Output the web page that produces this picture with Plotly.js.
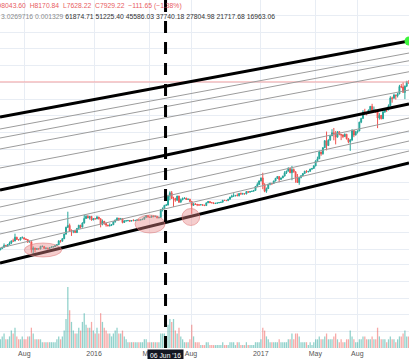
<!DOCTYPE html>
<html><head><meta charset="utf-8">
<script src="https://cdn.plot.ly/plotly-3.0.1.min.js"></script>
<style>html,body{margin:0;padding:0;background:#fff;overflow:hidden}#chart{width:409px;height:359px}</style>
</head><body><div id="chart"></div>
<script>
// ---- candle periods (4-day candles) ----
const periodStart = '2015-06-08';
const periodDays = 4;

const open = [
223,229,236,245,243,250,258,270,269,292,278,276,289,
289,281,278,264,265,224,232,225,229,
227,240,240,230,232,229,234,237,239,244,249,270,268,283,312,
360,375,332,332,335,322,352,376,362,395,435,455,440,455,422,
433,431,448,432,385,410,392,378,373,376,381,405,420,437,425,
433,399,412,414,417,411,416,415,418,422,420,424,428,446,462,
448,446,458,452,455,441,445,525,535,575,578,700,750,665,665,640,
700,615,648,665,672,652,655,624,575,593,588,582,580,582,578,
572,606,623,608,606,597,601,605,610,615,640,638,635,655,685,
698,705,710,705,740,730,735,732,770,760,772,776,789,860,895,965,
1030,895,775,820,900,920,915,965,1020,1060,998,1030,1070,1150,
1190,1265,1150,1230,1175,1040,935,1040,1080,1130,1185,1170,1185,1245,1260,
1330,1480,1545,1790,1720,1960,2270,2050,2300,2520,2690,2650,2450,2750,2600,2570,
2480,2610,2370,2220,2300,2840,2560,2730,
2800,3370,3650,4180,4150,4140,4360,4720,4250,4380,4180,3680,3900,3620,4200,
4400,4360,4780,5650,5600,6000,5900,6150,7200,7130,6350,7250,8043.6];

const high = [
231,238,256,248,252,266,272,283,315,294,281,291,297,
290,285,279,272,266,240,233,232,232,
243,245,241,234,233,237,240,240,248,250,274,275,286,315,365,
502,390,345,337,338,355,380,380,400,470,466,467,456,457,435,
436,460,450,435,425,412,398,380,392,385,407,425,445,440,440,
435,420,418,418,418,419,428,420,424,424,425,432,450,467,468,
451,463,461,460,456,446,530,550,580,592,720,775,780,690,675,705,
705,665,680,680,674,665,660,628,600,600,590,586,590,584,580,
610,630,625,612,612,605,608,612,618,645,641,642,660,690,720,
745,714,740,745,755,750,740,775,774,775,782,792,865,935,978,1035,
1150,920,840,910,925,925,970,1030,1070,1070,1035,1080,1190,1200,
1290,1280,1330,1260,1180,1120,1045,1090,1140,1200,1215,1190,1250,1265,1350,
1490,1620,1840,1800,1970,2300,2760,2340,2550,2900,2980,2790,2780,2780,2610,2600,
2650,2620,2410,2360,2900,2850,2800,2810,
3400,3700,4350,4480,4200,4400,4750,4980,4700,4400,4180,4080,3920,4250,4450,
4450,4920,5850,5800,6180,6050,6300,7450,7600,7880,7350,8050,8170.84];

const low = [
222,228,235,240,238,248,252,264,268,275,271,272,285,
278,275,258,262,210,198,211,223,225,
226,236,228,226,225,229,232,235,237,243,248,260,266,280,308,
355,330,300,318,319,319,350,350,360,390,430,436,425,415,418,
425,428,425,360,376,380,365,367,366,370,378,398,415,412,420,
392,396,410,410,404,410,413,411,416,416,418,422,427,443,443,
441,445,448,450,436,436,444,505,530,570,575,640,660,555,620,635,
605,610,640,658,645,645,620,480,570,580,565,568,578,570,568,
570,604,605,604,594,592,600,604,605,612,630,630,630,648,680,
690,695,700,695,725,728,728,728,752,757,766,773,787,858,892,955,
810,760,750,815,880,885,910,960,1010,940,990,1025,1065,1120,
1185,1140,980,1150,930,930,890,1020,1075,1125,1150,1160,1180,1220,1255,
1320,1450,1540,1650,1690,1950,1850,2030,2280,2510,2290,2100,2440,2550,2300,2400,
2470,2330,2150,1830,2280,2450,2550,2650,
2780,3300,3620,3950,3900,4120,4300,4100,4180,4100,2970,3560,3580,3610,4100,
4180,4350,4770,5100,5580,5450,5700,6100,6950,6350,5500,7100,7628.22];

const close = [
229,236,245,243,250,258,270,269,292,278,276,289,289,
281,278,264,265,224,232,225,229,227,
240,240,230,232,229,234,237,239,244,249,270,268,283,312,360,
375,332,332,335,322,352,376,362,395,435,455,440,455,422,433,
431,448,432,385,410,392,378,373,376,381,405,420,437,425,433,
399,412,414,417,411,416,415,418,422,420,424,428,446,462,448,
446,458,452,455,441,445,525,535,575,578,700,750,665,665,640,700,
615,648,665,672,652,655,624,575,593,588,582,580,582,578,572,
606,623,608,606,597,601,605,610,615,640,638,635,655,685,698,
705,710,705,740,730,735,732,770,760,772,776,789,860,895,965,1030,
895,775,820,900,920,915,965,1020,1060,998,1030,1070,1150,1190,
1265,1150,1230,1175,1040,935,1040,1080,1130,1185,1170,1185,1245,1260,1330,
1480,1545,1790,1720,1960,2270,2050,2300,2520,2690,2650,2450,2750,2600,2570,2480,
2610,2370,2220,2300,2840,2560,2730,2800,
3370,3650,4180,4150,4140,4360,4720,4250,4380,4180,3680,3900,3620,4200,4400,
4360,4780,5650,5600,6000,5900,6150,7200,7130,6350,7250,8043.6,7929.22];

const volume = [
3,4,5,3,3,4,6,5,7,4,3,3,4,
3,3,4,4,7,5,3,3,3,
3,2,2,2,2,2,2,2,2,3,4,3,4,6,10,
21,13,9,6,5,5,7,6,9,12,8,7,7,9,6,
5,7,5,12,9,7,6,5,5,4,5,6,7,5,5,
6,4,3,2,2,2,2,2,2,2,2,2,3,3,2,
2,2,2,2,2,2,5,5,5,4,8,10,9,10,6,5,
7,4,3,2,2,2,3,8,4,2,2,2,1,1,1,
2,2,1,1,1,1,1,1,1,2,1,1,1,2,2,
2,1,2,2,1,1,1,2,1,1,1,1,2,2,2,3,
7,6,4,3,2,2,2,2,2,3,2,2,2,2,
3,3,5,3,5,5,4,2,2,2,2,1,2,1,2,
3,3,4,3,3,4,5,3,3,3,4,5,3,2,3,2,
2,3,3,6,4,3,2,2,
3,3,4,4,3,3,3,4,3,3,7,4,3,3,3,
2,3,4,3,3,2,3,4,4,5,6,4,4];

// ---- channel drawing (prices at the left and right edge of the view) ----
const thickStart = [3760, 796.6, 168.7];
const thickEnd   = [18920, 4959, 1414];
const thinStart  = [2913, 2406, 1905, 1272, 554.8, 403.4, 312.6, 232.1];
const thinEnd    = [14665, 12450, 9851, 6675, 3681, 2793, 2257, 1825];

// ---- view / axes ----
const viewStart = '2015-06-08 14:00';
const viewEnd   = '2017-11-22 12:00';
const tickDates  = ['2015-08-01','2016-01-01','2016-05-01','2016-08-01','2017-01-01','2017-05-01','2017-08-01'];
const tickLabels = ['Aug','2016','May','Aug','2017','May','Aug'];
const gridPrices = [39,56,80,115,162,225,325,465,650,930,1330,1900,2700,3850,5500,7850,11200,16000,22800,32500,46000];

// ---- marked date ----
const markerDate = '2016-06-06';
const markerLabel = "06 Jun '16";

// ---- highlighted touches (ellipses) ----
const ellipseX0 = ['2015-08-01','2016-03-31','2016-07-12'];
const ellipseX1 = ['2015-10-22','2016-06-05','2016-08-20'];
const ellipseLow  = [191.7, 319.3, 374.5];
const ellipseHigh = [258.1, 468, 537.6];

// ---- legend texts ----
const legendOHLC = ['O8043.60','H8170.84','L7628.22','C7929.22','−111.65 (−1.38%)'];
const legendGray = ['3.0269716','0.001329'];
const legendLevels = ['61874.71','51225.40','45586.03','37740.18','27804.98','21717.68','16963.06'];

// ---------------------------------------------------------------
const UP = '#26a69a', DOWN = '#ef5350';
const t0 = Date.parse(periodStart + 'T00:00:00Z');
const fmt = ms => new Date(ms).toISOString().slice(0,16).replace('T',' ');
const dates = open.map((_, i) => fmt(t0 + (i * periodDays + 1.5) * 864e5));
const lastClose = close[close.length - 1];

const traces = [];
traces.push({
  type:'bar', x:dates, y:volume, yaxis:'y2',
  marker:{color: close.map((c,i)=> c >= open[i] ? 'rgba(38,166,154,0.5)' : 'rgba(239,83,80,0.5)')},
  hoverinfo:'skip'
});
traces.push({
  type:'scatter', mode:'lines', x:[viewStart, viewEnd], y:[lastClose, lastClose],
  line:{color:'#f5a3a3', width:1}, hoverinfo:'skip'
});
traces.push({
  type:'candlestick', x:dates, open:open, high:high, low:low, close:close,
  increasing:{line:{color:UP, width:1}, fillcolor:UP},
  decreasing:{line:{color:DOWN, width:1}, fillcolor:DOWN},
  whiskerwidth:0, hoverinfo:'skip'
});
thinStart.forEach((s,k)=>traces.push({
  type:'scatter', mode:'lines', x:[viewStart, viewEnd], y:[s, thinEnd[k]],
  line:{color:'#9c9c9c', width:1}, hoverinfo:'skip'
}));
thickStart.forEach((s,k)=>traces.push({
  type:'scatter', mode:'lines', x:[viewStart, viewEnd], y:[s, thickEnd[k]],
  line:{color:'#000', width:3}, hoverinfo:'skip'
}));
traces.push({
  type:'scatter', mode:'markers', x:[viewEnd], y:[thickEnd[0]],
  marker:{color:'#3df53d', size:9}, cliponaxis:true, hoverinfo:'skip'
});

const shapes = ellipseX0.map((x0,k)=>({
  type:'circle', xref:'x', yref:'y', x0:x0, x1:ellipseX1[k], y0:ellipseLow[k], y1:ellipseHigh[k],
  fillcolor:'rgba(232,135,135,0.42)', line:{color:'rgba(222,120,120,0.55)', width:1}, layer:'above'
}));
shapes.push({
  type:'line', xref:'x', yref:'paper', x0:markerDate, x1:markerDate, y0:0, y1:1,
  line:{color:'#000', width:3, dash:'12px,9px'}, layer:'above'
});

const legFont = {family:'Liberation Sans, Arial, sans-serif', size:6.8};
const annotations = [
  {xref:'paper', yref:'paper', x:-5/409, y:1-6/348, xanchor:'left', yanchor:'middle', showarrow:false,
   borderpad:0, text:legendOHLC.join('\u00a0\u00a0'), font:Object.assign({color:'#e8605f'}, legFont)},
  {xref:'paper', yref:'paper', x:0, y:1-17/348, xanchor:'left', yanchor:'middle', showarrow:false, borderpad:0,
   text:'<span style="color:#8c8c8c">'+legendGray.join(' ')+'</span> '+legendLevels.join(' '),
   font:Object.assign({color:'#333'}, legFont)},
  {xref:'x', yref:'paper', x:markerDate, y:0, xanchor:'center', yanchor:'top', showarrow:false,
   text:markerLabel, bgcolor:'#131722', borderpad:2, yshift:-1,
   font:{family:'Liberation Sans, Arial, sans-serif', size:6.8, color:'#fff'}}
];

const layout = {
  width:409, height:359, margin:{l:0, r:0, t:0, b:11},
  paper_bgcolor:'#fff', plot_bgcolor:'#fff', showlegend:false, bargap:0.3,
  xaxis:{type:'date', range:[viewStart, viewEnd], tickvals:tickDates, ticktext:tickLabels,
    showgrid:true, gridcolor:'#e8edf4', zeroline:false, showline:false, ticks:'',
    tickfont:{family:'Liberation Sans, Arial, sans-serif', size:7, color:'#555'},
    rangeslider:{visible:false}, fixedrange:true},
  yaxis:{type:'log', range:[1.442, 4.656], tickvals:gridPrices, showticklabels:false,
    showgrid:true, gridcolor:'#e8edf4', zeroline:false, showline:false, ticks:'', fixedrange:true},
  yaxis2:{overlaying:'y', range:[0,120], visible:false, showgrid:false, fixedrange:true},
  shapes:shapes, annotations:annotations
};

Plotly.newPlot('chart', traces, layout, {staticPlot:true, displayModeBar:false});
</script>
</body></html>
